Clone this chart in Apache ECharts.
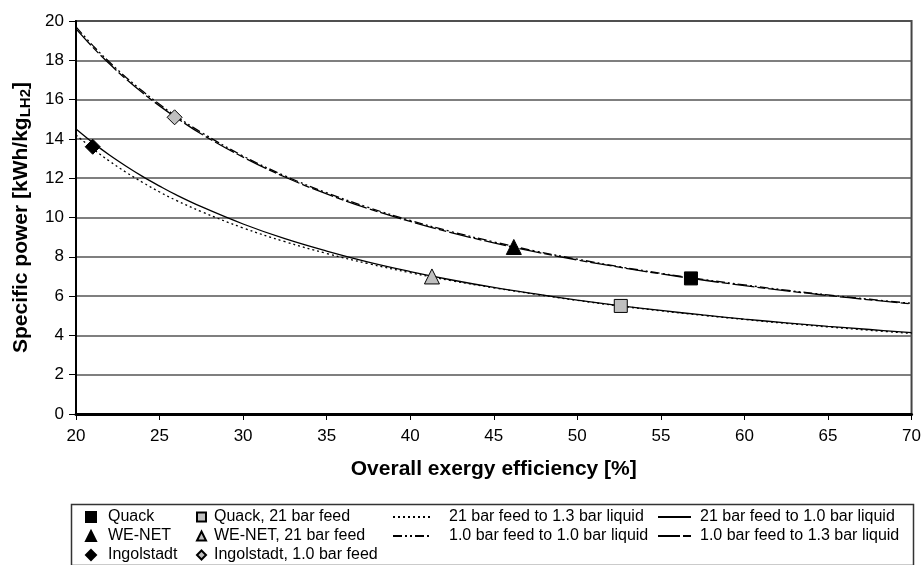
<!DOCTYPE html>
<html>
<head>
<meta charset="utf-8">
<script src="https://cdn.jsdelivr.net/npm/echarts@6/dist/echarts.min.js"></script>
<style>html,body{margin:0;padding:0;background:#fff}#c{width:924px;height:565px}</style>
</head>
<body>
<div id="c"></div>
<script>
// x positions (overall exergy efficiency, %)
const effX = [20,21,22,23,24,25,26,27.5,30,32.5,35,37.5,40,42.5,45,47.5,50,52.5,55,57.5,60,62.5,65,67.5,70];
// 21 bar feed to 1.3 bar liquid (dotted)
const feed21to13 = [14.2,13.5,12.87,12.3,11.78,11.3,10.87,10.3,9.47,8.77,8.17,7.65,7.19,6.78,6.42,6.09,5.78,5.5,5.25,5.02,4.81,4.61,4.43,4.26,4.1];
// 21 bar feed to 1.0 bar liquid (solid)
const feed21to10 = [14.5,13.81,13.18,12.61,12.08,11.6,11.15,10.55,9.67,8.92,8.29,7.73,7.25,6.82,6.44,6.11,5.8,5.52,5.27,5.04,4.83,4.64,4.46,4.3,4.14];
// 1.0 bar feed to 1.0 bar liquid (dash-dot-dot)
const feed10to10 = [19.7,18.76,17.91,17.13,16.42,15.76,15.15,14.33,13.13,12.12,11.26,10.51,9.85,9.27,8.76,8.29,7.88,7.5,7.16,6.85,6.57,6.3,6.06,5.84,5.63];
// 1.0 bar feed to 1.3 bar liquid (long dash)
const feed10to13 = [19.6,18.67,17.82,17.04,16.33,15.68,15.08,14.25,13.07,12.06,11.2,10.45,9.8,9.22,8.71,8.25,7.84,7.47,7.13,6.82,6.53,6.27,6.03,5.81,5.6];

// plant data points [efficiency, specific power]
const quack = [56.8, 6.9];
const weNet = [46.2, 8.5];
const ingolstadt = [21.0, 13.6];
const quack21 = [52.6, 5.5];
const weNet21 = [41.3, 7.0];
const ingolstadt10 = [25.9, 15.1];

const xTicks = {min: 20, max: 70, interval: 5};
const yTicks = {min: 0, max: 20, interval: 2};

const FONT = 'Liberation Sans, Arial, sans-serif';
const zip = (xs, ys) => xs.map((x, i) => [x, ys[i]]);

const chart = echarts.init(document.getElementById('c'), null, {renderer: 'canvas'});

function pt(name, d, symbol, fill, size) {
  return {
    name, type: 'scatter', data: [d], symbol, symbolSize: size, z: 5,
    itemStyle: {color: fill, borderColor: '#000', borderWidth: 1, opacity: 1}
  };
}
function ln(name, ys, dash) {
  return {
    name, type: 'line', data: zip(effX, ys), smooth: 0.4, showSymbol: false, symbol: 'none',
    lineStyle: {color: '#000', width: 1.3, type: dash}, itemStyle: {color: '#000'}, z: 3
  };
}

const legendText = {fontFamily: FONT, fontSize: 16, color: '#000', lineHeight: 16};
const withPad = (p) => Object.assign({}, legendText, {padding: [0, 0, 0, p]});

chart.setOption({
  backgroundColor: '#fff',
  animation: false,
  grid: {left: 76, right: 12, top: 21, bottom: 151, show: true, borderColor: '#444', borderWidth: 2, backgroundColor: 'transparent'},
  xAxis: {
    type: 'value', min: xTicks.min, max: xTicks.max, interval: xTicks.interval,
    name: 'Overall exergy efficiency [%]', nameLocation: 'middle', nameGap: 45,
    nameTextStyle: {fontFamily: FONT, fontSize: 21, fontWeight: 'bold', color: '#000'},
    axisLine: {show: true, lineStyle: {color: '#000', width: 3}},
    axisTick: {show: true, length: 6, lineStyle: {color: '#000', width: 1}},
    axisLabel: {fontFamily: FONT, fontSize: 17, color: '#000', margin: 14},
    splitLine: {show: false}
  },
  yAxis: {
    type: 'value', min: yTicks.min, max: yTicks.max, interval: yTicks.interval,
    name: '{t|Specific power [kWh/kg}{s|LH2}{t|]}', nameLocation: 'middle', nameGap: 43, nameRotate: 90,
    nameTextStyle: {
      rich: {
        t: {fontFamily: FONT, fontSize: 21, fontWeight: 'bold', color: '#000', lineHeight: 24},
        s: {fontFamily: FONT, fontSize: 15, fontWeight: 'bold', color: '#000', lineHeight: 24, padding: [10, 0, 0, 0]}
      }
    },
    axisLine: {show: true, lineStyle: {color: '#000', width: 2}},
    axisTick: {show: true, length: 7, lineStyle: {color: '#000', width: 1}},
    axisLabel: {fontFamily: FONT, fontSize: 17, color: '#000', margin: 12},
    splitLine: {show: true, lineStyle: {color: '#555', width: 1.6}}
  },
  legend: [
    {data: ['Quack', 'WE-NET', 'Ingolstadt'], orient: 'vertical', left: 85, top: 509, padding: 0,
     itemWidth: 10, itemHeight: 10, itemGap: 3, textStyle: withPad(7)},
    {data: ['Quack, 21 bar feed', 'WE-NET, 21 bar feed', 'Ingolstadt, 1.0 bar feed'], orient: 'vertical', left: 196, top: 509, padding: 0,
     itemWidth: 9, itemHeight: 9, itemGap: 3, textStyle: withPad(3)},
    {data: ['21 bar feed to 1.3 bar liquid', '1.0 bar feed to 1.0 bar liquid'], orient: 'vertical', left: 392, top: 509, padding: 0,
     itemWidth: 38, itemHeight: 8, itemGap: 3, itemStyle: {opacity: 0}, textStyle: withPad(13)},
    {data: ['21 bar feed to 1.0 bar liquid', '1.0 bar feed to 1.3 bar liquid'], orient: 'vertical', left: 657, top: 509, padding: 0,
     itemWidth: 33, itemHeight: 8, itemGap: 3, itemStyle: {opacity: 0}, textStyle: withPad(4)}
  ],
  graphic: [{
    type: 'rect', left: 69, top: 502, shape: {width: 842, height: 61},
    style: {fill: 'none', stroke: '#333', lineWidth: 1.5}, silent: true
  }],
  series: [
    pt('Quack', quack, 'rect', '#000', 13),
    pt('WE-NET', weNet, 'triangle', '#000', 15),
    pt('Ingolstadt', ingolstadt, 'diamond', '#000', 15),
    pt('Quack, 21 bar feed', quack21, 'rect', '#bfbfbf', 13),
    pt('WE-NET, 21 bar feed', weNet21, 'triangle', '#bfbfbf', 15),
    pt('Ingolstadt, 1.0 bar feed', ingolstadt10, 'diamond', '#bfbfbf', 15),
    ln('21 bar feed to 1.3 bar liquid', feed21to13, [2, 3]),
    ln('1.0 bar feed to 1.0 bar liquid', feed10to10, [9, 3, 2, 3, 2, 3]),
    ln('21 bar feed to 1.0 bar liquid', feed21to10, 'solid'),
    ln('1.0 bar feed to 1.3 bar liquid', feed10to13, [22, 3, 8, 3])
  ]
});
</script>
</body>
</html>
